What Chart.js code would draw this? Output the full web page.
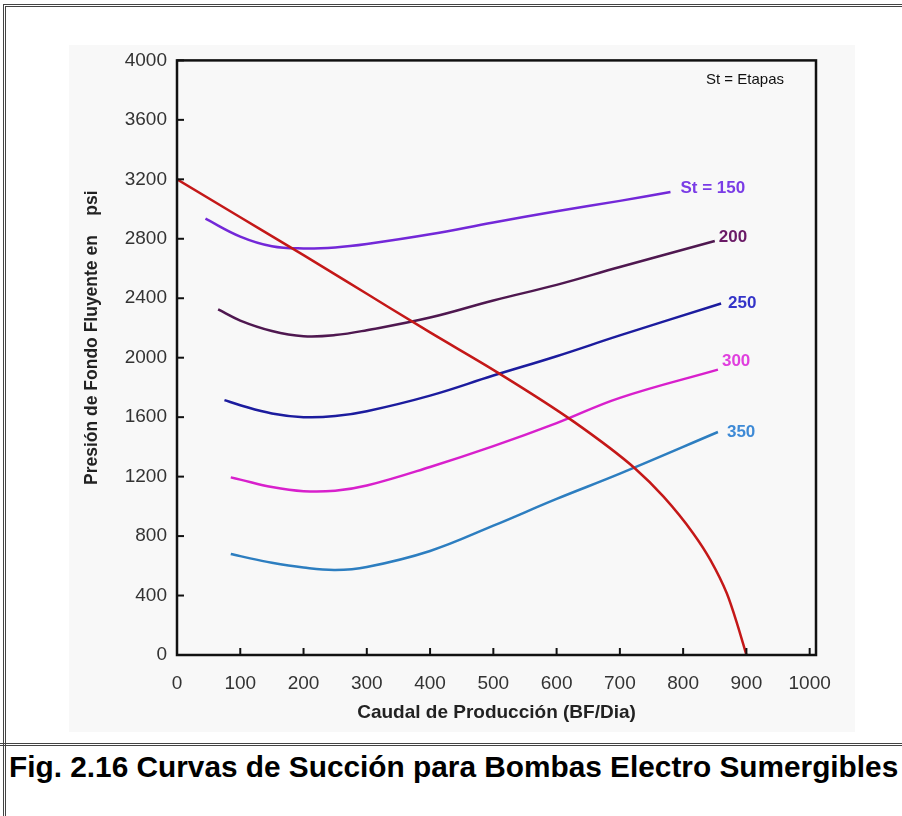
<!DOCTYPE html>
<html><head><meta charset="utf-8">
<script src="https://cdn.jsdelivr.net/npm/chart.js@4/dist/chart.umd.min.js"></script>
<style>
html,body{margin:0;padding:0;background:#fff;width:902px;height:816px;overflow:hidden;position:relative;font-family:"Liberation Sans",Arial,sans-serif;}
#frame{position:absolute;left:3px;top:4px;width:930px;height:900px;border-top:3px double #444;border-left:3px double #444;box-sizing:border-box;}
#sep{position:absolute;left:0;top:743px;width:902px;border-top:3px double #444;}
#wrap{position:absolute;left:69px;top:45px;width:786px;height:687px;background:#f8f8f8;overflow:hidden;}
#c{display:block;margin-top:-6px;}
#caption{position:absolute;left:9px;top:750px;line-height:30px;font:bold 29.8px "Liberation Sans",Arial,sans-serif;color:#000;white-space:nowrap;}
</style></head>
<body>
<div id="frame"></div>
<div id="wrap"><canvas id="c" width="786" height="693"></canvas></div>
<div id="sep"></div>
<div id="caption">Fig. 2.16 Curvas de Succión para Bombas Electro Sumergibles</div>
<script>
// ---- data ----
const xTicks = [0,100,200,300,400,500,600,700,800,900,1000];
const yTicks = [0,400,800,1200,1600,2000,2400,2800,3200,3600,4000];
const xTitle = "Caudal de Producción (BF/Dia)";
const yTitle = "Presión de Fondo Fluyente en    psi";
const noteText = "St = Etapas";

// IPR curve
const qIPR = [0,100,200,300,400,505,627,724,769,816,843,869,885,900];
const pIPR = [3200,2945,2690,2430,2170,1905,1570,1255,1065,818,640,415,215,0];

// St = 150
const q150 = [45,100,150,200,250,300,400,500,600,700,780];
const p150 = [2935,2815,2750,2735,2742,2765,2830,2910,2985,3055,3115];
// 200
const q200 = [65,100,150,200,250,300,400,500,600,700,850];
const p200 = [2325,2250,2180,2145,2152,2185,2270,2385,2490,2610,2785];
// 250
const q250 = [75,100,150,200,250,300,400,500,600,700,860];
const p250 = [1715,1680,1625,1600,1607,1640,1745,1880,2010,2150,2365];
// 300
const q300 = [85,100,150,200,250,300,400,500,600,700,855];
const p300 = [1195,1180,1130,1102,1105,1140,1265,1405,1560,1730,1920];
// 350
const q350 = [85,100,150,200,250,300,400,500,600,700,855];
const p350 = [680,665,620,588,572,592,700,870,1050,1220,1500];

const seriesLabels = ["", "St = 150", "200", "250", "300", "350"];

// ---- styling ----
const FONT = '"Liberation Sans", Arial, sans-serif';
const lineColors = ["#c41818", "#7328d8", "#4f1850", "#1c1c9e", "#d820cc", "#2d7ec0"];
const labelColors = ["#c41818", "#7a3ce6", "#6a1a66", "#3434c8", "#e040de", "#3e8ad6"];
const labelOffsets = [[0,0],[10,-4],[4,-4],[7,0],[4,-8],[9,0]];

function pts(xs, ys){ return xs.map((x,i)=>({x:x, y:ys[i]})); }
const allX = [qIPR,q150,q200,q250,q300,q350];
const allY = [pIPR,p150,p200,p250,p300,p350];

const datasets = allX.map((xs,i)=>({
  label: seriesLabels[i] || "IPR",
  data: pts(xs, allY[i]),
  showLine: true,
  borderColor: lineColors[i],
  backgroundColor: lineColors[i],
  borderWidth: 2.5,
  pointRadius: 0,
  cubicInterpolationMode: i === 0 ? 'monotone' : 'default',
  tension: i === 0 ? 0 : 0.4,
  fill: false
}));

const decor = {
  id: 'decor',
  afterDatasetsDraw(chart){
    const ctx = chart.ctx, a = chart.chartArea;
    const xs = chart.scales.x, ys = chart.scales.y;
    ctx.save();
    // inward tick marks
    ctx.strokeStyle = '#111'; ctx.lineWidth = 2;
    xTicks.forEach(v=>{
      const px = xs.getPixelForValue(v);
      ctx.beginPath(); ctx.moveTo(px, a.bottom); ctx.lineTo(px, a.bottom-7); ctx.stroke();
    });
    yTicks.forEach(v=>{
      const py = ys.getPixelForValue(v);
      ctx.beginPath(); ctx.moveTo(a.left, py); ctx.lineTo(a.left+7, py); ctx.stroke();
    });
    // frame
    ctx.lineWidth = 2.5;
    ctx.strokeRect(a.left, a.top, a.right-a.left, a.bottom-a.top);
    // series labels
    ctx.font = 'bold 17px ' + FONT;
    ctx.textBaseline = 'middle'; ctx.textAlign = 'left';
    chart.data.datasets.forEach((ds,i)=>{
      if(!seriesLabels[i]) return;
      const meta = chart.getDatasetMeta(i);
      const last = meta.data[meta.data.length-1];
      ctx.fillStyle = labelColors[i];
      ctx.fillText(seriesLabels[i], last.x + labelOffsets[i][0], last.y + labelOffsets[i][1]);
    });
    // note
    ctx.font = '15px ' + FONT;
    ctx.fillStyle = '#111';
    ctx.textAlign = 'right';
    ctx.fillText(noteText, a.right - 32, a.top + 19);
    // y axis title
    ctx.font = 'bold 17.5px ' + FONT;
    ctx.fillStyle = '#222';
    ctx.textAlign = 'center';
    ctx.translate(23, (a.top + a.bottom) / 2 - 20);
    ctx.rotate(-Math.PI / 2);
    ctx.fillText(yTitle, 0, 0);
    ctx.restore();
  }
};

new Chart(document.getElementById('c'), {
  type: 'scatter',
  data: { datasets },
  options: {
    responsive: false,
    animation: false,
    layout: { padding: { left: 0, right: 39, top: 9, bottom: 0 } },
    plugins: { legend: { display: false }, tooltip: { enabled: false } },
    scales: {
      x: {
        type: 'linear', min: 0, max: 1010,
        afterBuildTicks: s => { s.ticks = xTicks.map(v=>({value:v})); },
        afterFit: s => { s.height = 77; },
        grid: { display: false, drawTicks: false },
        border: { display: false },
        ticks: { padding: 17, color: '#333', autoSkip: false, maxRotation: 0,
                 callback: v => String(v),
                 font: { size: 19, family: FONT } },
        title: { display: true, text: xTitle, color: '#222',
                 font: { size: 19, weight: 'bold', family: FONT },
                 padding: { top: 0, bottom: 8 } }
      },
      y: {
        type: 'linear', min: 0, max: 4000,
        afterBuildTicks: s => { s.ticks = yTicks.map(v=>({value:v})); },
        afterFit: s => { s.width = 108; },
        grid: { display: false, drawTicks: false },
        border: { display: false },
        ticks: { padding: 10, color: '#333', autoSkip: false,
                 callback: v => String(v),
                 font: { size: 19, family: FONT } },
        title: { display: false }
      }
    }
  },
  plugins: [decor]
});
</script>
</body></html>
